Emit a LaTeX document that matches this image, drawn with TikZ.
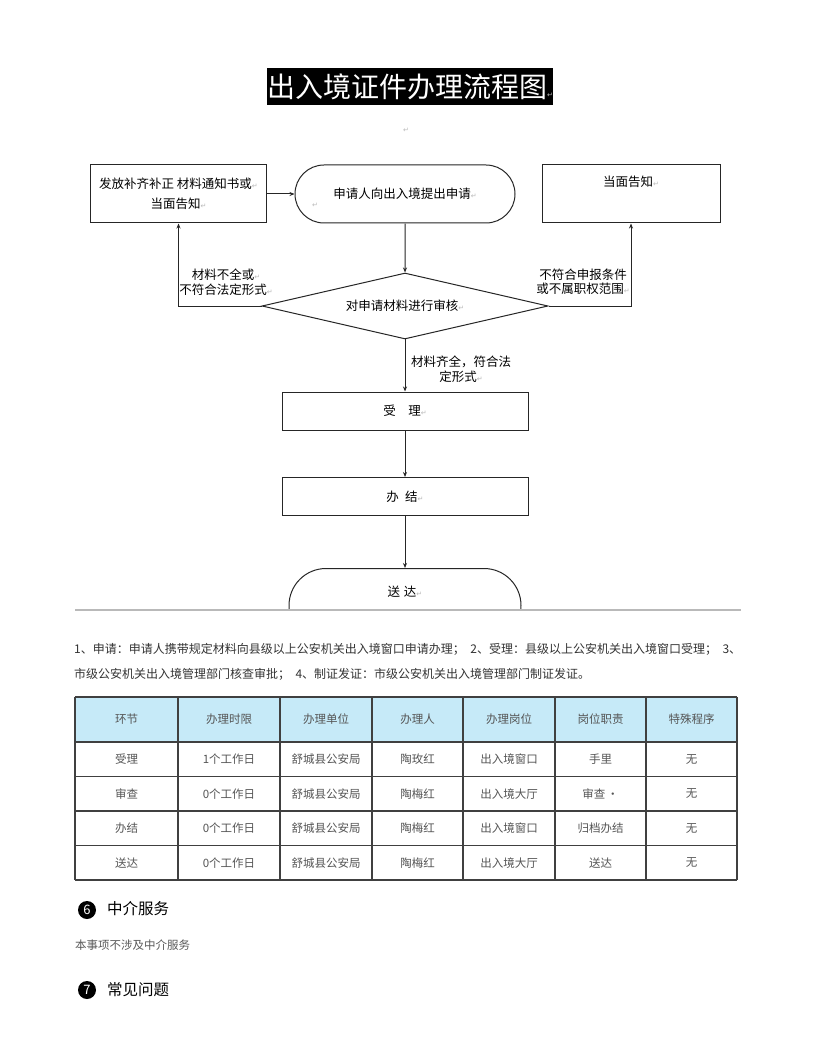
\documentclass[tikz,border=0pt]{standalone}
\usepackage{fontspec}
\setmainfont{Noto Sans CJK SC}
\newfontfamily\symfont{DejaVu Sans}
\usetikzlibrary{shapes.geometric,shapes.misc,arrows.meta}

\definecolor{headblue}{HTML}{C6EAF8}
\definecolor{tabtext}{HTML}{555555}
\newcommand{\ret}{{\symfont\color{gray!55}\fontsize{7}{7}\selectfont ↵}}

\tikzset{
    flow/.style={draw=black!85, line width=1pt, font=\fontsize{12.5}{20}\selectfont, align=center},
    box/.style={flow, rectangle, minimum width=176pt, minimum height=58pt, inner sep=2pt},
    term/.style={flow, rounded rectangle, minimum width=224pt, minimum height=58pt, inner sep=2pt},
    dec/.style={flow, diamond, aspect=4.33, minimum width=286pt, minimum height=66pt, inner sep=0pt},
    lab/.style={font=\fontsize{12.5}{14.5}\selectfont, align=center, inner sep=1pt},
    arr/.style={draw=black!85, line width=1pt, -{Stealth[length=5pt,width=4pt]}},
    cell/.style={font=\fontsize{11.5}{14}\selectfont, text=tabtext, inner sep=1pt},
    tabline/.style={draw=black!75, line width=1.1pt},
    para/.style={font=\fontsize{12}{14}\selectfont, text=black!80, inner sep=0pt, anchor=west},
    num/.style={circle, fill=black, text=white, inner sep=0pt, minimum size=18pt, font=\fontsize{13}{13}\selectfont},
    head/.style={font=\fontsize{15.5}{18}\selectfont, inner sep=0pt, anchor=west}
}

\begin{document}
\begin{tikzpicture}[x=1pt,y=-1pt]
    \path[fill=white] (0,0) rectangle (816,1056);
    % title
    \node[fill=black, text=white, minimum width=286pt, minimum height=37pt, inner sep=0pt,
          font=\fontsize{28}{28}\selectfont] (bt) at (410,86.5) {出入境证件办理流程图\ret};
    \node (r0) at (406,130) {\ret};

    % flow chart
    \node[box] (fang) at (178.5,194) {发放补齐补正 材料通知书或\ret\\当面告知\ret};
    \node[term] (shen) at (405,194) {申请人向出入境提出申请\ret};
    \node (r1) at (315,205) {\ret};
    \node[box, minimum width=178pt, text depth=26pt] (gao) at (631,194) {当面告知\ret};
    \node[dec] (shenhe) at (405,306) {对申请材料进行审核\ret};
    \node[lab] (lq) at (226,282) {材料不全或\ret\\不符合法定形式\ret};
    \node[lab] (rq) at (583,282) {不符合申报条件\\或不属职权范围\ret};
    \node[lab] (xq) at (461,369) {材料齐全，符合法\\定形式\ret};
    \node[box, minimum width=246pt, minimum height=38pt] (shouli) at (405,411) {受\hspace{1em}理\ret};
    \node[box, minimum width=246pt, minimum height=38pt] (banjie) at (405,496.5) {办\hspace{.5em}结\ret};
    \begin{scope}
        \clip (0,0) rectangle (816,609);
        \node[term, anchor=north, minimum width=236pt, minimum height=74pt, text depth=28pt] (songda) at (405,568) {送\hspace{.3em}达\ret};
    \end{scope}

    \draw[arr] (fang) -- (shen);
    \draw[arr] (shen) -- (shenhe);
    \draw[arr] (shenhe.west) -| (fang.south);
    \draw[arr] (shenhe.east) -| (gao.south);
    \draw[arr] (shenhe) -- (shouli);
    \draw[arr] (shouli) -- (banjie);
    \draw[arr] (banjie) -- (songda);

    \draw[gray!55, line width=2pt] (75,610) -- (741,610);

    % steps text
    \node[para] (p1) at (74,649) {\makebox[667pt][s]{1、申请：申请人携带规定材料向县级以上公安机关出入境窗口申请办理；\ \ 2、受理：县级以上公安机关出入境窗口受理；\ \ 3、}};
    \node[para] (p2) at (74,674) {市级公安机关出入境管理部门核查审批；\ \ 4、制证发证：市级公安机关出入境管理部门制证发证。};

    % table
    \fill[headblue] (75,697) rectangle (737,742);
    \foreach \x in {75,178,280,372,463,555,646,737}
        \draw[tabline] (\x,697) -- (\x,880);
    \foreach \y in {697,742,776.5,811,845.5,880}
        \draw[tabline] (75,\y) -- (737,\y);
    \foreach \x/\t [count=\i] in {126.5/环节,229/办理时限,326/办理单位,417.5/办理人,509/办理岗位,600.5/岗位职责,691.5/特殊程序}
        \node[cell] (hd\i) at (\x,719.5) {\t};
    \foreach \a/\b/\c/\d/\e/\f/\g [count=\j] in {受理/1个工作日/舒城县公安局/陶玫红/出入境窗口/手里/无,
        审查/0个工作日/舒城县公安局/陶梅红/出入境大厅/审查\,•/无,
        办结/0个工作日/舒城县公安局/陶梅红/出入境窗口/归档办结/无,
        送达/0个工作日/舒城县公安局/陶梅红/出入境大厅/送达/无}{
        \pgfmathsetmacro{\yy}{759.25+34.5*(\j-1)}
        \node[cell] (r\j-1) at (126.5,\yy) {\a};
        \node[cell] (r\j-2) at (229,\yy) {\b};
        \node[cell] (r\j-3) at (326,\yy) {\c};
        \node[cell] (r\j-4) at (417.5,\yy) {\d};
        \node[cell] (r\j-5) at (509,\yy) {\e};
        \node[cell] (r\j-6) at (600.5,\yy) {\f};
        \node[cell] (r\j-7) at (691.5,\yy) {\g};
    }

    % sections 6 and 7
    \node[num] (n6) at (87,910) {6};
    \node[head] (h6) at (107,909) {中介服务};
    \node[para, font=\fontsize{11.5}{14}\selectfont, text=black!65] (t6) at (75,945) {本事项不涉及中介服务};
    \node[num] (n7) at (87,990) {7};
    \node[head] (h7) at (107,990) {常见问题};
\end{tikzpicture}
\end{document}
